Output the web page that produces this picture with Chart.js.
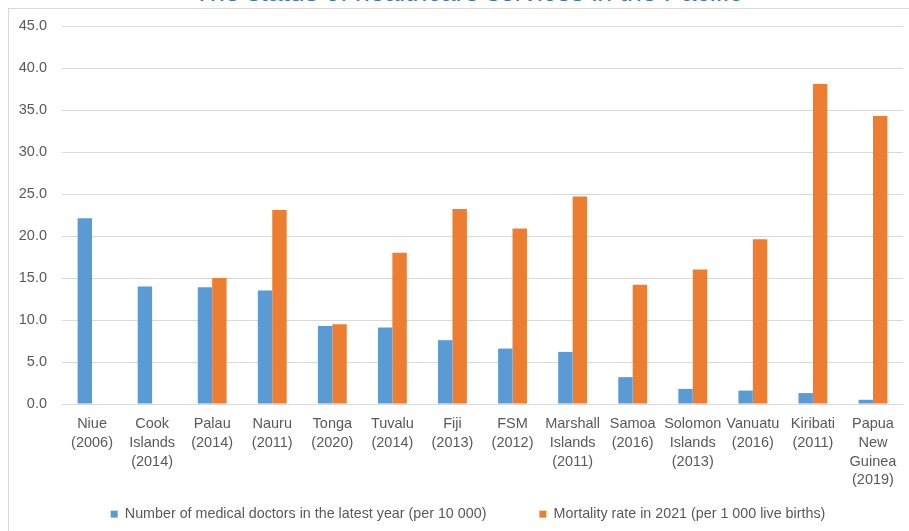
<!DOCTYPE html>
<html>
<head>
<meta charset="utf-8">
<script src="https://cdn.jsdelivr.net/npm/chart.js@4/dist/chart.umd.min.js"></script>
<style>
  html, body { margin: 0; padding: 0; background: #fff; }
  #wrap { position: relative; width: 909px; height: 531px; overflow: hidden; background: #fff; }
  #title { position: absolute; left: 0; width: 936px; top: -21px; text-align: center;
    font-family: "Liberation Sans", Arial, sans-serif; font-size: 26.6px; line-height: 26.6px; color: #4472C4; white-space: nowrap; }
  #frameL { position: absolute; left: 8px; top: 8px; width: 1px; height: 523px; background: #d9d9d9; }
  #frameT { position: absolute; left: 8px; top: 8px; width: 901px; height: 1px; background: #d9d9d9; }
  #c { position: absolute; left: 0; top: 0; }
</style>
</head>
<body>
<div id="wrap">
  <div id="title">The status of healthcare services in the Pacific</div>
  <div id="frameL"></div>
  <div id="frameT"></div>
  <canvas id="c" width="909" height="531"></canvas>
</div>
<script>
const categories = [
  ["Niue", "(2006)"],
  ["Cook", "Islands", "(2014)"],
  ["Palau", "(2014)"],
  ["Nauru", "(2011)"],
  ["Tonga", "(2020)"],
  ["Tuvalu", "(2014)"],
  ["Fiji", "(2013)"],
  ["FSM", "(2012)"],
  ["Marshall", "Islands", "(2011)"],
  ["Samoa", "(2016)"],
  ["Solomon", "Islands", "(2013)"],
  ["Vanuatu", "(2016)"],
  ["Kiribati", "(2011)"],
  ["Papua", "New", "Guinea", "(2019)"]
];
const doctorsLabel = "Number of medical doctors in the latest year (per 10 000)";
const mortalityLabel = "Mortality rate in 2021 (per 1 000 live births)";
const doctors = [22.1, 14.0, 13.9, 13.5, 9.3, 9.1, 7.6, 6.6, 6.2, 3.2, 1.8, 1.6, 1.3, 0.5];
const mortality = [null, null, 15.0, 23.1, 9.5, 18.0, 23.2, 20.9, 24.7, 14.2, 16.0, 19.6, 38.1, 34.3];
const yMin = 0, yMax = 45, yStep = 5;

const FONT = "'Liberation Sans', Arial, sans-serif";
const GRAY = "#595959";
const GRID = "#d9d9d9";

// Moves the bottom legend up into place (its item spacing also sets its vertical offset).
const legendShift = {
  id: 'legendShift',
  afterLayout(chart) {
    const l = chart.legend;
    if (!l) return;
    l.top -= 36;
    l.left += 12; l.right += 12;
  }
};

new Chart(document.getElementById('c'), {
  type: 'bar',
  data: {
    labels: categories,
    datasets: [
      { label: doctorsLabel, data: doctors, backgroundColor: '#5B9BD5', borderWidth: 0 },
      { label: mortalityLabel, data: mortality, backgroundColor: '#ED7D31', borderWidth: 0 }
    ]
  },
  plugins: [legendShift],
  options: {
    responsive: false,
    animation: false,
    events: [],
    categoryPercentage: 0.48,
    barPercentage: 1.0,
    layout: { padding: { left: 9, right: 6, top: 26, bottom: 0 } },
    plugins: {
      title: { display: false },
      tooltip: { enabled: false },
      legend: {
        position: 'bottom',
        maxHeight: 41,
        labels: {
          boxWidth: 7, boxHeight: 7, padding: 53,
          color: GRAY,
          font: { family: FONT, size: 14.3 }
        }
      }
    },
    scales: {
      x: {
        grid: { display: false, drawTicks: false },
        border: { display: true, color: GRID, width: 1 },
        ticks: {
          autoSkip: false, maxRotation: 0, minRotation: 0, padding: 11,
          color: GRAY, font: { family: FONT, size: 14.5, lineHeight: 1.29 }
        },
        afterFit: (s) => { s.height = 86; }
      },
      y: {
        min: yMin, max: yMax,
        grid: { color: GRID, lineWidth: 1, drawTicks: false },
        border: { display: false },
        ticks: {
          stepSize: yStep, padding: 15,
          color: GRAY, font: { family: FONT, size: 14.5 },
          callback: (v) => Number(v).toFixed(1)
        },
        afterFit: (s) => { s.width = 53; }
      }
    }
  }
});
</script>
</body>
</html>
